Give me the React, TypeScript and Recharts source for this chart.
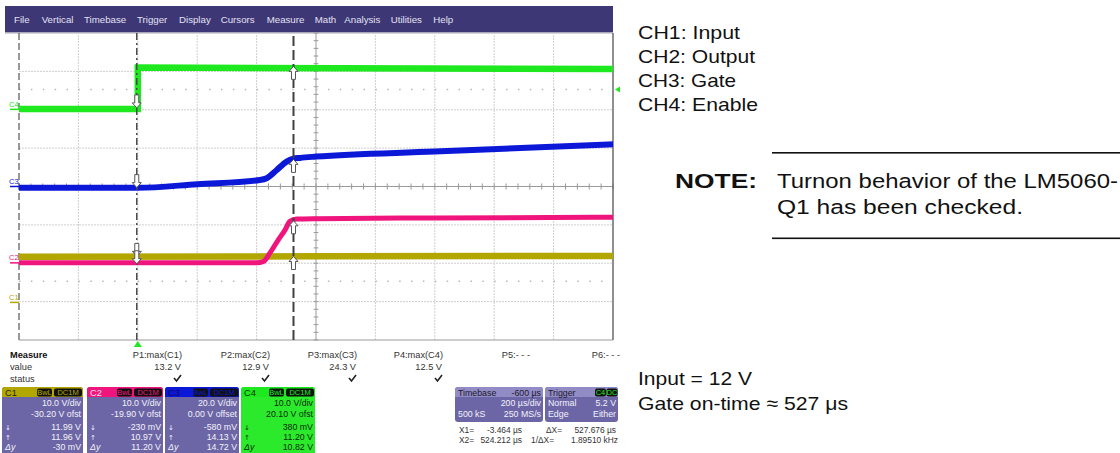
import React from 'react';
import { LineChart, Line, XAxis, YAxis, ReferenceLine, ReferenceDot } from 'recharts';

const W = 1120;
const H = 453;
const MARGIN = { top: 33, right: 507, bottom: 113, left: 19 };

// graticule: 200 µs/div, 10 x 8 divisions, trigger 2 divs from the left
const timeGrid = [-400, -200, 0, 200, 400, 600, 800, 1000, 1200, 1400, 1600];
const divGrid = [-4, -3, -2, -1, 0, 1, 2, 3, 4];

// channel settings (from the scope's channel boxes)
const chIds = ['C1', 'C2', 'C3', 'C4'];
const chColors = ['#b2a600', '#f0157d', '#0c18d8', '#1ee81e'];
const chVoltsPerDiv = [10, 10, 20, 10];
const chOffsets = [-30.2, -19.9, 0, 20.1];
const triggerLevel = 5.2;

// traces, time in µs, volts
const inputTime = [-400, 600, 1600];
const inputVolts = [11.9, 12.0, 12.1];
const outputTime = [-400, 401, 423, 445, 473, 496, 512, 535, 600, 1000, 1600];
const outputVolts = [0, 0, 0.35, 2.6, 6.0, 8.6, 10.8, 11.4, 11.5, 11.7, 11.9];
const gateTime = [-400, 0, 200, 411, 434, 468, 501, 524, 546, 600, 1000, 1600];
const gateVolts = [-0.7, -0.7, 1.2, 3.4, 4.3, 8.6, 13.0, 14.5, 14.9, 15.6, 18.2, 22.0];
const enableTime = [-400, 0, 0, 1600];
const enableVolts = [0.1, 0.1, 10.9, 10.5];

// cursors
const cursorTimes = [-3.464, 524.212];
const atX1 = [11.99, -0.23, -0.58, 0.38];
const atX2 = [11.96, 10.97, 14.13, 11.2];

// channel box texts
const boxVdiv = ['10.0 V/div', '10.0 V/div', '20.0 V/div', '10.0 V/div'];
const boxOfst = ['-30.20 V ofst', '-19.90 V ofst', '0.00 V offset', '20.10 V ofst'];
const boxX1 = ['11.99 V', '-230 mV', '-580 mV', '380 mV'];
const boxX2 = ['11.96 V', '10.97 V', '14.13 V', '11.20 V'];
const boxDy = ['-30 mV', '11.20 V', '14.72 V', '10.82 V'];

// measure table
const measureLabels = ['P1:max(C1)', 'P2:max(C2)', 'P3:max(C3)', 'P4:max(C4)', 'P5:- - -', 'P6:- - -'];
const measureValues = ['13.2 V', '12.9 V', '24.3 V', '12.5 V', '', ''];

const menuItems = ['File', 'Vertical', 'Timebase', 'Trigger', 'Display', 'Cursors', 'Measure', 'Math', 'Analysis', 'Utilities', 'Help'];

const toDiv = (v: number, ch: number) => (v + chOffsets[ch]) / chVoltsPerDiv[ch];
const makeTrace = (ts: number[], vs: number[], ch: number) => ts.map((t, i) => ({ t, d: toDiv(vs[i], ch) }));

const inputData = makeTrace(inputTime, inputVolts, 0);
const outputData = makeTrace(outputTime, outputVolts, 1);
const gateData = makeTrace(gateTime, gateVolts, 2);
const enableData = makeTrace(enableTime, enableVolts, 3);

const minorX = Array.from({ length: 51 }, (_, i) => -400 + i * 40);
const minorY = Array.from({ length: 41 }, (_, i) => -4 + i * 0.2);

// only used to place the small channel tags next to their zero markers
const plotH = H - MARGIN.top - MARGIN.bottom;
const divToPx = (d: number) => MARGIN.top + ((4 - d) / 8) * plotH;

const FONT = 'Liberation Sans, Arial, Helvetica, sans-serif';

const arrow = (dir: 'up' | 'down') => (p: any) => {
  const { cx, cy } = p;
  const s = dir === 'down' ? -1 : 1;
  const pts = [[0, 0], [4.5, 5], [2, 5], [2, 13], [-2, 13], [-2, 5], [-4.5, 5]]
    .map(([dx, dy]) => `${cx + dx},${cy + dy * s}`)
    .join(' ');
  return <polygon points={pts} fill="#fff" stroke="#555" strokeWidth={1} />;
};

const zeroMark = (i: number) => (p: any) => {
  const { cx, cy } = p;
  return <line x1={cx - 9} x2={cx} y1={cy} y2={cy} stroke={chColors[i]} strokeWidth={1.5} />;
};

const trigBottom = (p: any) => {
  const { cx, cy } = p;
  return <polygon points={`${cx},${cy + 1} ${cx - 4},${cy + 7} ${cx + 4},${cy + 7}`} fill="#1ee81e" />;
};
const trigRight = (p: any) => {
  const { cx, cy } = p;
  return <polygon points={`${cx + 2},${cy} ${cx + 7},${cy - 3} ${cx + 7},${cy + 3}`} fill="#1ee81e" />;
};

function T({ x, y, children, size = 8.8, anchor = 'start', fill = '#222', weight = 400, sx = 1.05, italic = false, family = FONT }: any) {
  return (
    <text
      transform={`translate(${x},${y}) scale(${sx},1)`}
      fontSize={size}
      textAnchor={anchor}
      fill={fill}
      fontWeight={weight}
      fontStyle={italic ? 'italic' : 'normal'}
      fontFamily={family}
    >
      {children}
    </text>
  );
}

function Badge({ x, w, label, color }: any) {
  return (
    <g>
      <rect x={x} y={388.5} width={w} height={8} rx={2} fill="#111" />
      <T x={x + w / 2} y={395.3} size={7.5} anchor="middle" fill={color} sx={1}>{label}</T>
    </g>
  );
}

const boxLeft = [2, 87, 165, 241];
const boxWidth = [81, 76, 74, 74];
const headTextColor = ['#222200', '#ffe0f0', '#0a0a60', '#113311'];

function ChannelBox({ i }: { i: number }) {
  const x = boxLeft[i];
  const w = boxWidth[i];
  const r = x + w;
  const green = i === 3;
  const body = green ? '#2bea2b' : '#6d66a6';
  const txt = green ? '#0d2a0d' : '#f2f2fa';
  return (
    <g>
      <rect x={x} y={387} width={w} height={80} rx={3} fill={body} />
      <path d={`M${x},397 V390 Q${x},387 ${x + 3},387 H${r - 3} Q${r},387 ${r},390 V397 Z`} fill={chColors[i]} />
      <T x={x + 3} y={395.5} fill={headTextColor[i]} size={8.8}>{chIds[i]}</T>
      <Badge x={r - 46} w={15} label="BwL" color={chColors[i]} />
      <Badge x={r - 29} w={28} label="DC1M" color={chColors[i]} />
      <T x={r - 2} y={406} anchor="end" fill={txt} sx={1}>{boxVdiv[i]}</T>
      <T x={r - 2} y={417} anchor="end" fill={txt} sx={1}>{boxOfst[i]}</T>
      <T x={x + 3} y={430} fill={txt} size={7} family="DejaVu Sans" sx={1}>↓</T>
      <T x={r - 2} y={430} anchor="end" fill={txt} sx={1}>{boxX1[i]}</T>
      <T x={x + 3} y={440} fill={txt} size={7} family="DejaVu Sans" sx={1}>↑</T>
      <T x={r - 2} y={440} anchor="end" fill={txt} sx={1}>{boxX2[i]}</T>
      <T x={x + 3} y={450} fill={txt} italic sx={1}>Δy</T>
      <T x={r - 2} y={450} anchor="end" fill={txt} sx={1}>{boxDy[i]}</T>
    </g>
  );
}

const menuX = [14, 41.7, 84, 137, 179, 220.7, 266.7, 314.7, 344.3, 390.7, 433.3];
const measureRight = [182, 270, 357, 443, 530, 620];

function Overlay() {
  const check = (x: number) => (
    <path d={`M${x - 4},378 L${x - 1.5},381 L${x + 3},375`} stroke="#222" strokeWidth={1.6} fill="none" />
  );
  return (
    <svg width={W} height={H} style={{ position: 'absolute', left: 0, top: 0 }}>
      {/* menu bar */}
      <rect x={5} y={6} width={608} height={27} fill="#3e3776" />
      <rect x={5} y={32} width={608} height={1.5} fill="#a8a8b8" />
      {menuItems.map((m, i) => (
        <T key={m} x={menuX[i]} y={22.5} fill="#e2e2f2" sx={1.1}>{m}</T>
      ))}

      {/* channel tags at the left edge */}
      {chIds.map((c, i) => (
        <text key={c} x={9} y={divToPx(toDiv(0, i)) - 2.5} fontSize={7.5} fill={chColors[i]} fontFamily={FONT}>{c}</text>
      ))}

      {/* measure table */}
      <T x={10} y={358} weight={700} fill="#111">Measure</T>
      <T x={10} y={370} fill="#333">value</T>
      <T x={10} y={382} fill="#333">status</T>
      {measureLabels.map((m, i) => (
        <g key={m}>
          <T x={measureRight[i]} y={358} anchor="end" fill="#333">{m}</T>
          {measureValues[i] && <T x={measureRight[i] - 1} y={370} anchor="end" fill="#333">{measureValues[i]}</T>}
          {measureValues[i] && check(measureRight[i] - 4)}
        </g>
      ))}

      {chIds.map((c, i) => <ChannelBox key={c} i={i} />)}

      {/* timebase box */}
      <rect x={455} y={387} width={88} height={35} rx={3} fill="#6d66a6" />
      <path d="M455,397 V390 Q455,387 458,387 H540 Q543,387 543,390 V397 Z" fill="#918bc6" />
      <T x={458} y={395.5} fill="#1a1a2a" sx={1}>Timebase</T>
      <T x={541} y={395.5} anchor="end" fill="#1a1a2a" sx={1}>-600 µs</T>
      <T x={541} y={406} anchor="end" fill="#f2f2fa" sx={1}>200 µs/div</T>
      <T x={458} y={417} fill="#f2f2fa" sx={1}>500 kS</T>
      <T x={541} y={417} anchor="end" fill="#f2f2fa" sx={1}>250 MS/s</T>

      {/* trigger box */}
      <rect x={545} y={387} width={73} height={35} rx={3} fill="#6d66a6" />
      <path d="M545,397 V390 Q545,387 548,387 H615 Q618,387 618,390 V397 Z" fill="#918bc6" />
      <T x={548} y={395.5} fill="#1a1a2a" sx={1}>Trigger</T>
      <rect x={595} y={388.5} width={11} height={8} rx={2} fill="#111" />
      <T x={600.5} y={395.3} size={7.5} anchor="middle" fill="#1ee81e" sx={1}>C4</T>
      <rect x={606.5} y={388.5} width={11} height={8} rx={2} fill="#111" />
      <T x={612} y={395.3} size={7.5} anchor="middle" fill="#1ee81e" sx={1}>DC</T>
      <T x={548} y={406} fill="#f2f2fa" sx={1}>Normal</T>
      <T x={616} y={406} anchor="end" fill="#f2f2fa" sx={1}>5.2 V</T>
      <T x={548} y={417} fill="#f2f2fa" sx={1}>Edge</T>
      <T x={616} y={417} anchor="end" fill="#f2f2fa" sx={1}>Either</T>

      {/* cursor readout */}
      <T x={459} y={433} fill="#333" size={8.4} sx={1}>X1=</T>
      <T x={522} y={433} anchor="end" fill="#333" size={8.4} sx={1}>-3.464 µs</T>
      <T x={546} y={433} fill="#333" size={8.4} sx={1}>ΔX=</T>
      <T x={616} y={433} anchor="end" fill="#333" size={8.4} sx={1}>527.676 µs</T>
      <T x={459} y={443} fill="#333" size={8.4} sx={1}>X2=</T>
      <T x={522} y={443} anchor="end" fill="#333" size={8.4} sx={1}>524.212 µs</T>
      <T x={531} y={443} fill="#333" size={8.4} sx={1}>1/ΔX=</T>
      <T x={618} y={443} anchor="end" fill="#333" size={8.4} sx={1}>1.89510 kHz</T>

      {/* document text on the right */}
      {['CH1: Input', 'CH2: Output', 'CH3: Gate', 'CH4: Enable'].map((s, i) => (
        <text key={s} x={638} y={39 + i * 24} fontSize={19} fontFamily={FONT} fill="#111"
          textLength={[102, 117, 98, 120][i]} lengthAdjust="spacingAndGlyphs">{s}</text>
      ))}
      <rect x={772} y={152} width={348} height={1.6} fill="#111" />
      <text x={675} y={188} fontSize={20.5} fontWeight={700} fontFamily={FONT} fill="#111" textLength={82} lengthAdjust="spacingAndGlyphs">NOTE:</text>
      <text x={777} y={188} fontSize={20.5} fontFamily={FONT} fill="#111" textLength={341} lengthAdjust="spacingAndGlyphs">Turnon behavior of the LM5060-</text>
      <text x={777} y={213.5} fontSize={20.5} fontFamily={FONT} fill="#111" textLength={246} lengthAdjust="spacingAndGlyphs">Q1 has been checked.</text>
      <rect x={772} y={237.5} width={348} height={1.6} fill="#111" />
      <text x={638} y={385} fontSize={19} fontFamily={FONT} fill="#111" textLength={114} lengthAdjust="spacingAndGlyphs">Input = 12 V</text>
      <text x={638} y={410} fontSize={19} fontFamily={FONT} fill="#111" textLength={210} lengthAdjust="spacingAndGlyphs">Gate on-time ≈ 527 μs</text>
    </svg>
  );
}

export default function App() {
  return (
    <div style={{ position: 'fixed', left: 0, top: 0, width: W, height: H, background: '#fff', overflow: 'hidden' }}>
      <Overlay />
      <div style={{ position: 'absolute', left: 0, top: 0 }}>
        <LineChart width={W} height={H} margin={MARGIN}>
          <XAxis type="number" dataKey="t" domain={[-400, 1600]} hide allowDataOverflow />
          <YAxis type="number" domain={[-4, 4]} hide allowDataOverflow />

          {/* graticule */}
          {timeGrid.slice(1, -1).map((t) => (
            <ReferenceLine key={`gx${t}`} x={t} stroke={t === 600 ? '#9a9a9a' : '#cfcfcf'} strokeDasharray={t === 600 ? undefined : '2 1'} />
          ))}
          {divGrid.slice(1, -1).map((d) => (
            <ReferenceLine key={`gy${d}`} y={d} stroke={d === 0 ? '#9a9a9a' : '#cfcfcf'} strokeDasharray={d === 0 ? undefined : '2 1'} />
          ))}
          {minorX.map((t) => (
            <ReferenceLine key={`mx${t}`} segment={[{ x: t, y: -0.08 }, { x: t, y: 0.08 }]} stroke="#9a9a9a" />
          ))}
          {minorY.map((d) => (
            <ReferenceLine key={`my${d.toFixed(1)}`} segment={[{ x: 592, y: d }, { x: 608, y: d }]} stroke="#9a9a9a" />
          ))}
          {[toDiv(triggerLevel, 3), -2.47].map((d) => (
            <ReferenceLine key={`dot${d}`} y={d} stroke="#b8b8b8" strokeWidth={1.5} strokeDasharray="1.5 10.38" />
          ))}
          <ReferenceLine x={-400} stroke="#555" strokeWidth={1.2} strokeDasharray="7 3" />
          <ReferenceLine x={1600} stroke="#6a6a6a" strokeWidth={1.5} />
          <ReferenceLine y={-4} stroke="#9a9a9a" strokeWidth={1.2} />

          <Line data={inputData} dataKey="d" type="linear" stroke={chColors[0]} strokeWidth={6.5} dot={false} isAnimationActive={false} />
          <Line data={gateData} dataKey="d" type="monotone" stroke={chColors[2]} strokeWidth={6} dot={false} isAnimationActive={false} />
          <Line data={outputData} dataKey="d" type="monotone" stroke={chColors[1]} strokeWidth={5} dot={false} isAnimationActive={false} />
          <Line data={enableData} dataKey="d" type="linear" stroke={chColors[3]} strokeWidth={6.5} dot={false} isAnimationActive={false} />

          {/* cursors */}
          <ReferenceLine x={cursorTimes[0]} stroke="#4a4a4a" strokeWidth={1.5} strokeDasharray="7 3 2 3" />
          <ReferenceLine x={cursorTimes[1]} stroke="#404040" strokeWidth={2} strokeDasharray="10 4" />
          {atX1.map((v, i) => (
            <ReferenceDot key={`a1${i}`} x={cursorTimes[0]} y={toDiv(v, i)} r={0} ifOverflow="visible" shape={arrow('down')} />
          ))}
          {atX2.map((v, i) => (
            <ReferenceDot key={`a2${i}`} x={cursorTimes[1]} y={toDiv(v, i)} r={0} ifOverflow="visible" shape={arrow('up')} />
          ))}

          {/* channel zero markers and trigger markers */}
          {chIds.map((c, i) => (
            <ReferenceDot key={c} x={-400} y={toDiv(0, i)} r={0} ifOverflow="visible" shape={zeroMark(i)} />
          ))}
          <ReferenceDot x={0} y={-4} r={0} ifOverflow="visible" shape={trigBottom} />
          <ReferenceDot x={1600} y={toDiv(triggerLevel, 3)} r={0} ifOverflow="visible" shape={trigRight} />
        </LineChart>
      </div>
    </div>
  );
}
